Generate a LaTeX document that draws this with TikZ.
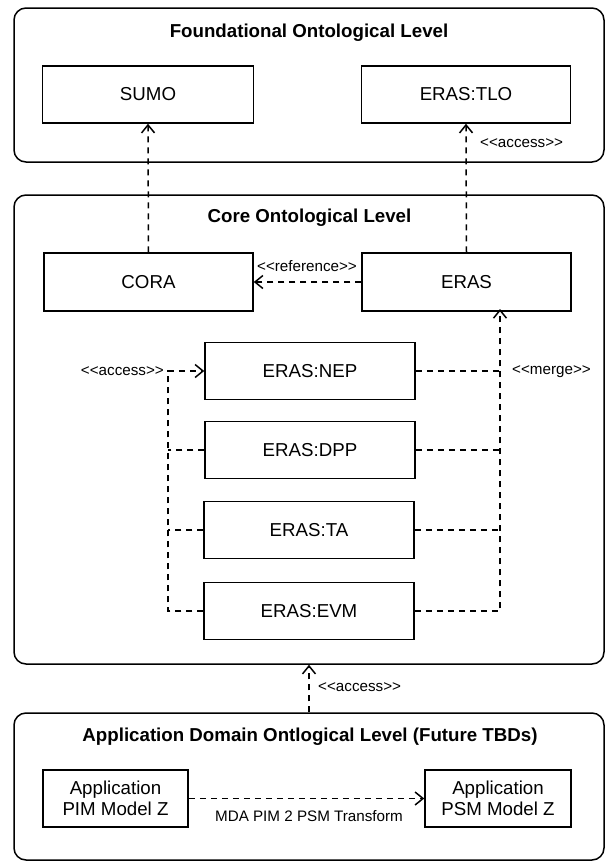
\documentclass[tikz,border=0pt]{standalone}
\usepackage{fontspec}
\setmainfont{Liberation Sans}
\usetikzlibrary{arrows.meta}

\tikzset{
  level/.style={draw, line width=1.5pt, rounded corners=12pt, inner sep=0pt},
  block/.style={draw, line width=1.5pt, fill=white, inner sep=0pt,
                align=center, font=\fontsize{18.7}{21.5}\selectfont},
  heading/.style={font=\bfseries\fontsize{18.7}{21.5}\selectfont, inner sep=0pt},
  tag/.style={font=\fontsize{15.2}{17}\selectfont, inner sep=0pt},
  dep/.style={line width=1.5pt, dash pattern=on 6pt off 5pt},
  deparrow/.style={dep, -{Straight Barb[length=8pt,width=13pt,line width=1.5pt]}}
}

\begin{document}
\begin{tikzpicture}[x=1pt, y=-1pt]
  \useasboundingbox (0,0) rectangle (605,863);

  % level frames
  \node[level, minimum width=590pt, minimum height=154pt] (found) at (309,85) {};
  \node[level, minimum width=590pt, minimum height=469pt] (core) at (309,429.5) {};
  \node[level, minimum width=590pt, minimum height=147pt] (app) at (309,786.5) {};

  % level headings
  \node[heading] (tfound) at (309,33) {Foundational Ontological Level};
  \node[heading] (tcore) at (309.5,218) {Core Ontological Level};
  \node[heading] (tapp) at (310,737) {Application Domain Ontlogical Level (Future TBDs)};

  % foundational ontologies
  \node[block, minimum width=211pt, minimum height=57pt] (sumo) at (148,94.5) {SUMO};
  \node[block, minimum width=209pt, minimum height=57pt] (tlo) at (466,94.5) {ERAS:TLO};

  % core ontologies
  \node[block, minimum width=209pt, minimum height=58pt] (cora) at (148.5,282) {CORA};
  \node[block, minimum width=209pt, minimum height=58pt] (eras) at (466.5,282) {ERAS};
  \node[block, minimum width=210pt, minimum height=57pt] (nep) at (310,371) {ERAS:NEP};
  \node[block, minimum width=210pt, minimum height=57pt] (dpp) at (310,450) {ERAS:DPP};
  \node[block, minimum width=210pt, minimum height=57pt] (ta) at (309,530) {ERAS:TA};
  \node[block, minimum width=210pt, minimum height=57pt] (evm) at (309,611) {ERAS:EVM};

  % application models
  \node[block, minimum width=145pt, minimum height=57pt] (pim) at (115.5,798.5) {Application\\PIM Model Z};
  \node[block, minimum width=146pt, minimum height=57pt] (psm) at (498,798.5) {Application\\PSM Model Z};

  % access bus (left) and merge bus (right)
  \coordinate (acc) at (168,371);
  \coordinate (accdpp) at (168,450);
  \coordinate (accta) at (168,530);
  \coordinate (mrg) at (500,309);
  \coordinate (mrgnep) at (500,371);
  \coordinate (mrgdpp) at (500,450);
  \coordinate (mrgta) at (500,530);

  % connectors between levels
  \draw[deparrow] (cora.north) -- (sumo.south);
  \draw[deparrow] (eras.north) -- (tlo.south);
  \draw[deparrow] (eras.west) -- (cora.east);
  \draw[deparrow] (app.north) -- (core.south);

  % access bus
  \draw[deparrow] (evm.west) -| (acc) -- (nep.west);
  \draw[dep] (dpp.west) -- (accdpp);
  \draw[dep] (ta.west) -- (accta);

  % merge bus
  \draw[deparrow] (evm.east) -| (mrg);
  \draw[dep] (nep.east) -- (mrgnep);
  \draw[dep] (dpp.east) -- (mrgdpp);
  \draw[dep] (ta.east) -- (mrgta);

  % transformation
  \draw[deparrow] (pim.east) -- (psm.west);

  % connector labels
  \node[tag, anchor=west] (lacc1) at (480,143) {<{}<access>{}>};
  \node[tag] (lref) at (307,266) {<{}<reference>{}>};
  \node[tag, anchor=east] (lacc2) at (164,371) {<{}<access>{}>};
  \node[tag, anchor=west] (lmrg) at (512,372) {<{}<merge>{}>};
  \node[tag, anchor=west] (lacc3) at (318,687) {<{}<access>{}>};
  \node[tag] (lmda) at (309,816) {MDA PIM 2 PSM Transform};
\end{tikzpicture}
\end{document}
